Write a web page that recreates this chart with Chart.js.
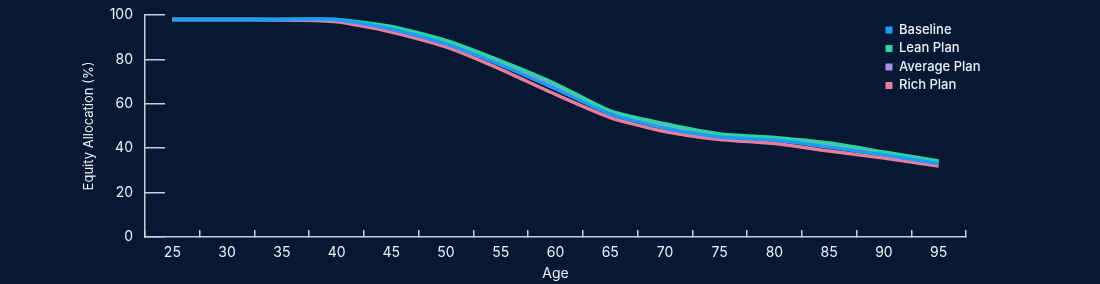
<!DOCTYPE html>
<html>
<head>
<meta charset="utf-8">
<script src="https://cdn.jsdelivr.net/npm/chart.js@4.4.1/dist/chart.umd.min.js"></script>
<style>
  html, body { margin: 0; padding: 0; background: #061834; }
  #wrap { width: 1100px; height: 284px; }
</style>
</head>
<body>
<div id="wrap"><canvas id="chart"></canvas></div>
<script>
const ages = [25, 30, 35, 40, 45, 50, 55, 60, 65, 70, 75, 80, 85, 90, 95];
const baseline = [98, 98, 98, 98, 93.7, 87, 77.5, 66.7, 55.4, 49, 45, 43.7, 40.5, 37, 33.1];
const leanPlan = [98, 98, 98, 98, 94.8, 88.5, 79.3, 69, 56.8, 51, 46.4, 44.8, 42.3, 38.3, 34.2];
const averagePlan = [98, 98, 98, 97.6, 94.2, 87.7, 78.2, 67.6, 56, 49.8, 45.6, 44.2, 41.3, 37.6, 33.6];
const richPlan = [98, 98, 97.8, 97, 92.3, 85.6, 75.5, 64.2, 53.8, 47.5, 43.9, 42.1, 38.7, 35.6, 32];
const yTicks = [0, 20, 40, 60, 80, 100];

const axisColor = "#c9ced8";
const textColor = "#eef1f6";
Chart.defaults.font.family = "Inter, Roboto, sans-serif";

// the legend sits inside the plot, top right
const legendSpot = {
  id: "legendSpot",
  afterLayout(chart) {
    const lg = chart.legend;
    if (!lg) return;
    lg.left = 880;
    lg.right = lg.left + lg.width;
    lg.top = 18;
    lg.bottom = lg.top + lg.height;
  },
};

function line(label, data, color) {
  return {
    label,
    data,
    borderColor: color,
    backgroundColor: color,
    borderWidth: 3.5,
    pointRadius: 0,
    tension: 0.2,
    fill: false,
  };
}

// big tick paddings otherwise push the plot area inwards
function noEdgePadding(s) {
  s.paddingTop = 0;
  s.paddingBottom = 0;
  s.paddingLeft = 0;
  s.paddingRight = 0;
}

new Chart(document.getElementById("chart"), {
  type: "line",
  data: {
    labels: ages,
    datasets: [
      line("Baseline", baseline, "#1c9cf6"),
      line("Lean Plan", leanPlan, "#2ed3a0"),
      line("Average Plan", averagePlan, "#a98ee0"),
      line("Rich Plan", richPlan, "#e97b9b"),
    ],
  },
  options: {
    responsive: true,
    maintainAspectRatio: false,
    animation: false,
    layout: { padding: { left: 0, right: 134, top: 15, bottom: 0 } },
    scales: {
      x: {
        type: "category",
        offset: true,
        afterFit: (s) => { s.height = 47; noEdgePadding(s); },
        grid: {
          offset: true,
          drawOnChartArea: false,
          drawTicks: true,
          tickLength: -7,
          color: axisColor,
          lineWidth: 1.5,
        },
        border: { color: axisColor, width: 1.5 },
        ticks: { color: textColor, font: { size: 14 }, padding: 14, maxRotation: 0 },
        title: {
          display: true,
          text: "Age",
          color: textColor,
          font: { size: 14 },
          padding: { top: 0, bottom: 2 },
        },
      },
      y: {
        min: 0,
        max: 100,
        afterFit: (s) => { s.width = 145; noEdgePadding(s); },
        afterBuildTicks: (s) => { s.ticks = yTicks.map((v) => ({ value: v })); },
        grid: {
          drawOnChartArea: false,
          drawTicks: true,
          tickLength: -20,
          color: axisColor,
          lineWidth: 1.5,
        },
        border: { color: axisColor, width: 1.5 },
        ticks: { color: textColor, font: { size: 14 }, padding: 32 },
        title: {
          display: true,
          text: "Equity Allocation (%)",
          color: textColor,
          font: { size: 13 },
          padding: { top: 81, bottom: 0 },
        },
      },
    },
    plugins: {
      legend: {
        position: "chartArea",
        fullSize: false,
        align: "start",
        labels: {
          color: textColor,
          font: { size: 13, weight: "500" },
          boxWidth: 7,
          boxHeight: 7,
          padding: 5.5,
          generateLabels: (chart) =>
            Chart.defaults.plugins.legend.labels.generateLabels(chart).map((l) => ({ ...l, lineWidth: 0 })),
        },
      },
      tooltip: { enabled: false },
    },
  },
  plugins: [legendSpot],
});
</script>
</body>
</html>
